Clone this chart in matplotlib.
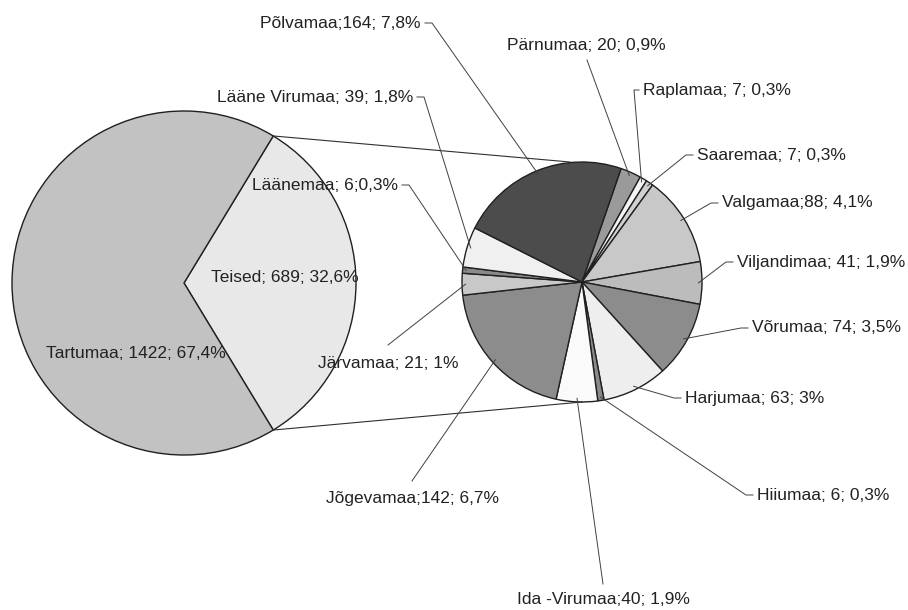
import numpy as np
import matplotlib
matplotlib.use("Agg")
import matplotlib.pyplot as plt

plt.rcParams['font.family'] = ['Liberation Sans', 'DejaVu Sans']

# ---- data ----
main_labels = ["Teised", "Tartumaa"]
main_values = [689, 1422]
main_pct = ["32,6%", "67,4%"]

sub_labels = ["Pärnumaa", "Raplamaa", "Saaremaa", "Valgamaa", "Viljandimaa",
              "Võrumaa", "Harjumaa", "Hiiumaa", "Ida -Virumaa", "Jõgevamaa",
              "Järvamaa", "Läänemaa", "Lääne Virumaa", "Põlvamaa"]
sub_values = [20, 7, 7, 88, 41, 74, 63, 6, 40, 142, 21, 6, 39, 164]
sub_texts = ["Pärnumaa; 20; 0,9%", "Raplamaa; 7; 0,3%", "Saaremaa; 7; 0,3%",
             "Valgamaa;88; 4,1%", "Viljandimaa; 41; 1,9%", "Võrumaa; 74; 3,5%",
             "Harjumaa; 63; 3%", "Hiiumaa; 6; 0,3%", "Ida -Virumaa;40; 1,9%",
             "Jõgevamaa;142; 6,7%", "Järvamaa; 21; 1%", "Läänemaa; 6;0,3%",
             "Lääne Virumaa; 39; 1,8%", "Põlvamaa;164; 7,8%"]

# ---- styles ----
main_colors = ["#e8e8e8", "#c2c2c2"]
sub_colors = ["#9a9a9a", "#f4f4f4", "#d0d0d0", "#c8c8c8", "#bcbcbc",
              "#8c8c8c", "#eeeeee", "#8a8a8a", "#fafafa", "#8c8c8c",
              "#c8c8c8", "#8a8a8a", "#f0f0f0", "#4c4c4c"]

W, H = 908, 610
fig = plt.figure(figsize=(W / 100, H / 100), dpi=100)
ax = fig.add_axes([0, 0, 1, 1])

def Y(py):
    return H - py

big_c = (184, Y(283))
big_r = 172
small_c = (582, Y(282))
small_r = 120

edge = dict(edgecolor='#202020', linewidth=1.0)

teised_share = main_values[0] / sum(main_values)
w_big, _ = ax.pie(main_values, colors=main_colors, center=big_c, radius=big_r,
                  startangle=-teised_share * 180, counterclock=True,
                  wedgeprops=edge, frame=True)
w_small, _ = ax.pie(sub_values, colors=sub_colors, center=small_c, radius=small_r,
                    startangle=71, counterclock=False, wedgeprops=edge, frame=True)
ax.set_xlim(0, W)
ax.set_ylim(0, H)
ax.set_aspect('equal')
ax.axis('off')

# connector lines between pies
a1 = np.deg2rad(w_big[0].theta2)
a0 = np.deg2rad(w_big[0].theta1)
ax.plot([big_c[0] + big_r * np.cos(a1), small_c[0] - 12],
        [big_c[1] + big_r * np.sin(a1), small_c[1] + small_r],
        color='#303030', lw=0.8)
ax.plot([big_c[0] + big_r * np.cos(a0), small_c[0]],
        [big_c[1] + big_r * np.sin(a0), small_c[1] - small_r],
        color='#303030', lw=0.8)

fs = 12.5
tc = '#222222'
# labels inside big pie
ax.text(285, Y(277), f"{main_labels[0]}; {main_values[0]}; {main_pct[0]}",
        ha='center', va='center', fontsize=fs, color=tc)
ax.text(136, Y(353), f"{main_labels[1]}; {main_values[1]}; {main_pct[1]}",
        ha='center', va='center', fontsize=fs, color=tc)

# label layout: (x, y, ha, leader start x, leader start y, stub)
layout = {
    "Pärnumaa": (586, 45, 'center', 587, 60, None),
    "Raplamaa": (643, 90, 'left', 639, 90, 634),
    "Saaremaa": (697, 155, 'left', 693, 155, 686),
    "Valgamaa": (722, 203, 'left', 718, 203, 711),
    "Viljandimaa": (737, 262, 'left', 733, 262, 726),
    "Võrumaa": (752, 328, 'left', 748, 328, 741),
    "Harjumaa": (685, 398, 'left', 681, 398, 674),
    "Hiiumaa": (757, 495, 'left', 753, 495, 746),
    "Ida -Virumaa": (603, 600, 'center', 603, 584, None),
    "Jõgevamaa": (412, 498, 'center', 412, 481, None),
    "Järvamaa": (388, 364, 'center', 388, 345, None),
    "Läänemaa": (398, 185, 'right', 402, 185, 409),
    "Lääne Virumaa": (413, 97, 'right', 417, 97, 424),
    "Põlvamaa": (421, 23, 'right', 425, 23, 432),
}

for w, lab, txt in zip(w_small, sub_labels, sub_texts):
    x, y, ha, lx, ly, stub = layout[lab]
    ax.text(x, Y(y), txt, ha=ha, va='center', fontsize=fs, color=tc)
    mid = np.deg2rad((w.theta1 + w.theta2) / 2)
    ex = small_c[0] + small_r * 0.97 * np.cos(mid)
    ey = small_c[1] + small_r * 0.97 * np.sin(mid)
    xs = [lx]
    ys = [Y(ly)]
    if stub is not None:
        xs.append(stub)
        ys.append(Y(ly))
    xs.append(ex)
    ys.append(ey)
    ax.plot(xs, ys, color='#404040', lw=0.7)

fig.savefig("out.png", dpi=100, facecolor='white')
